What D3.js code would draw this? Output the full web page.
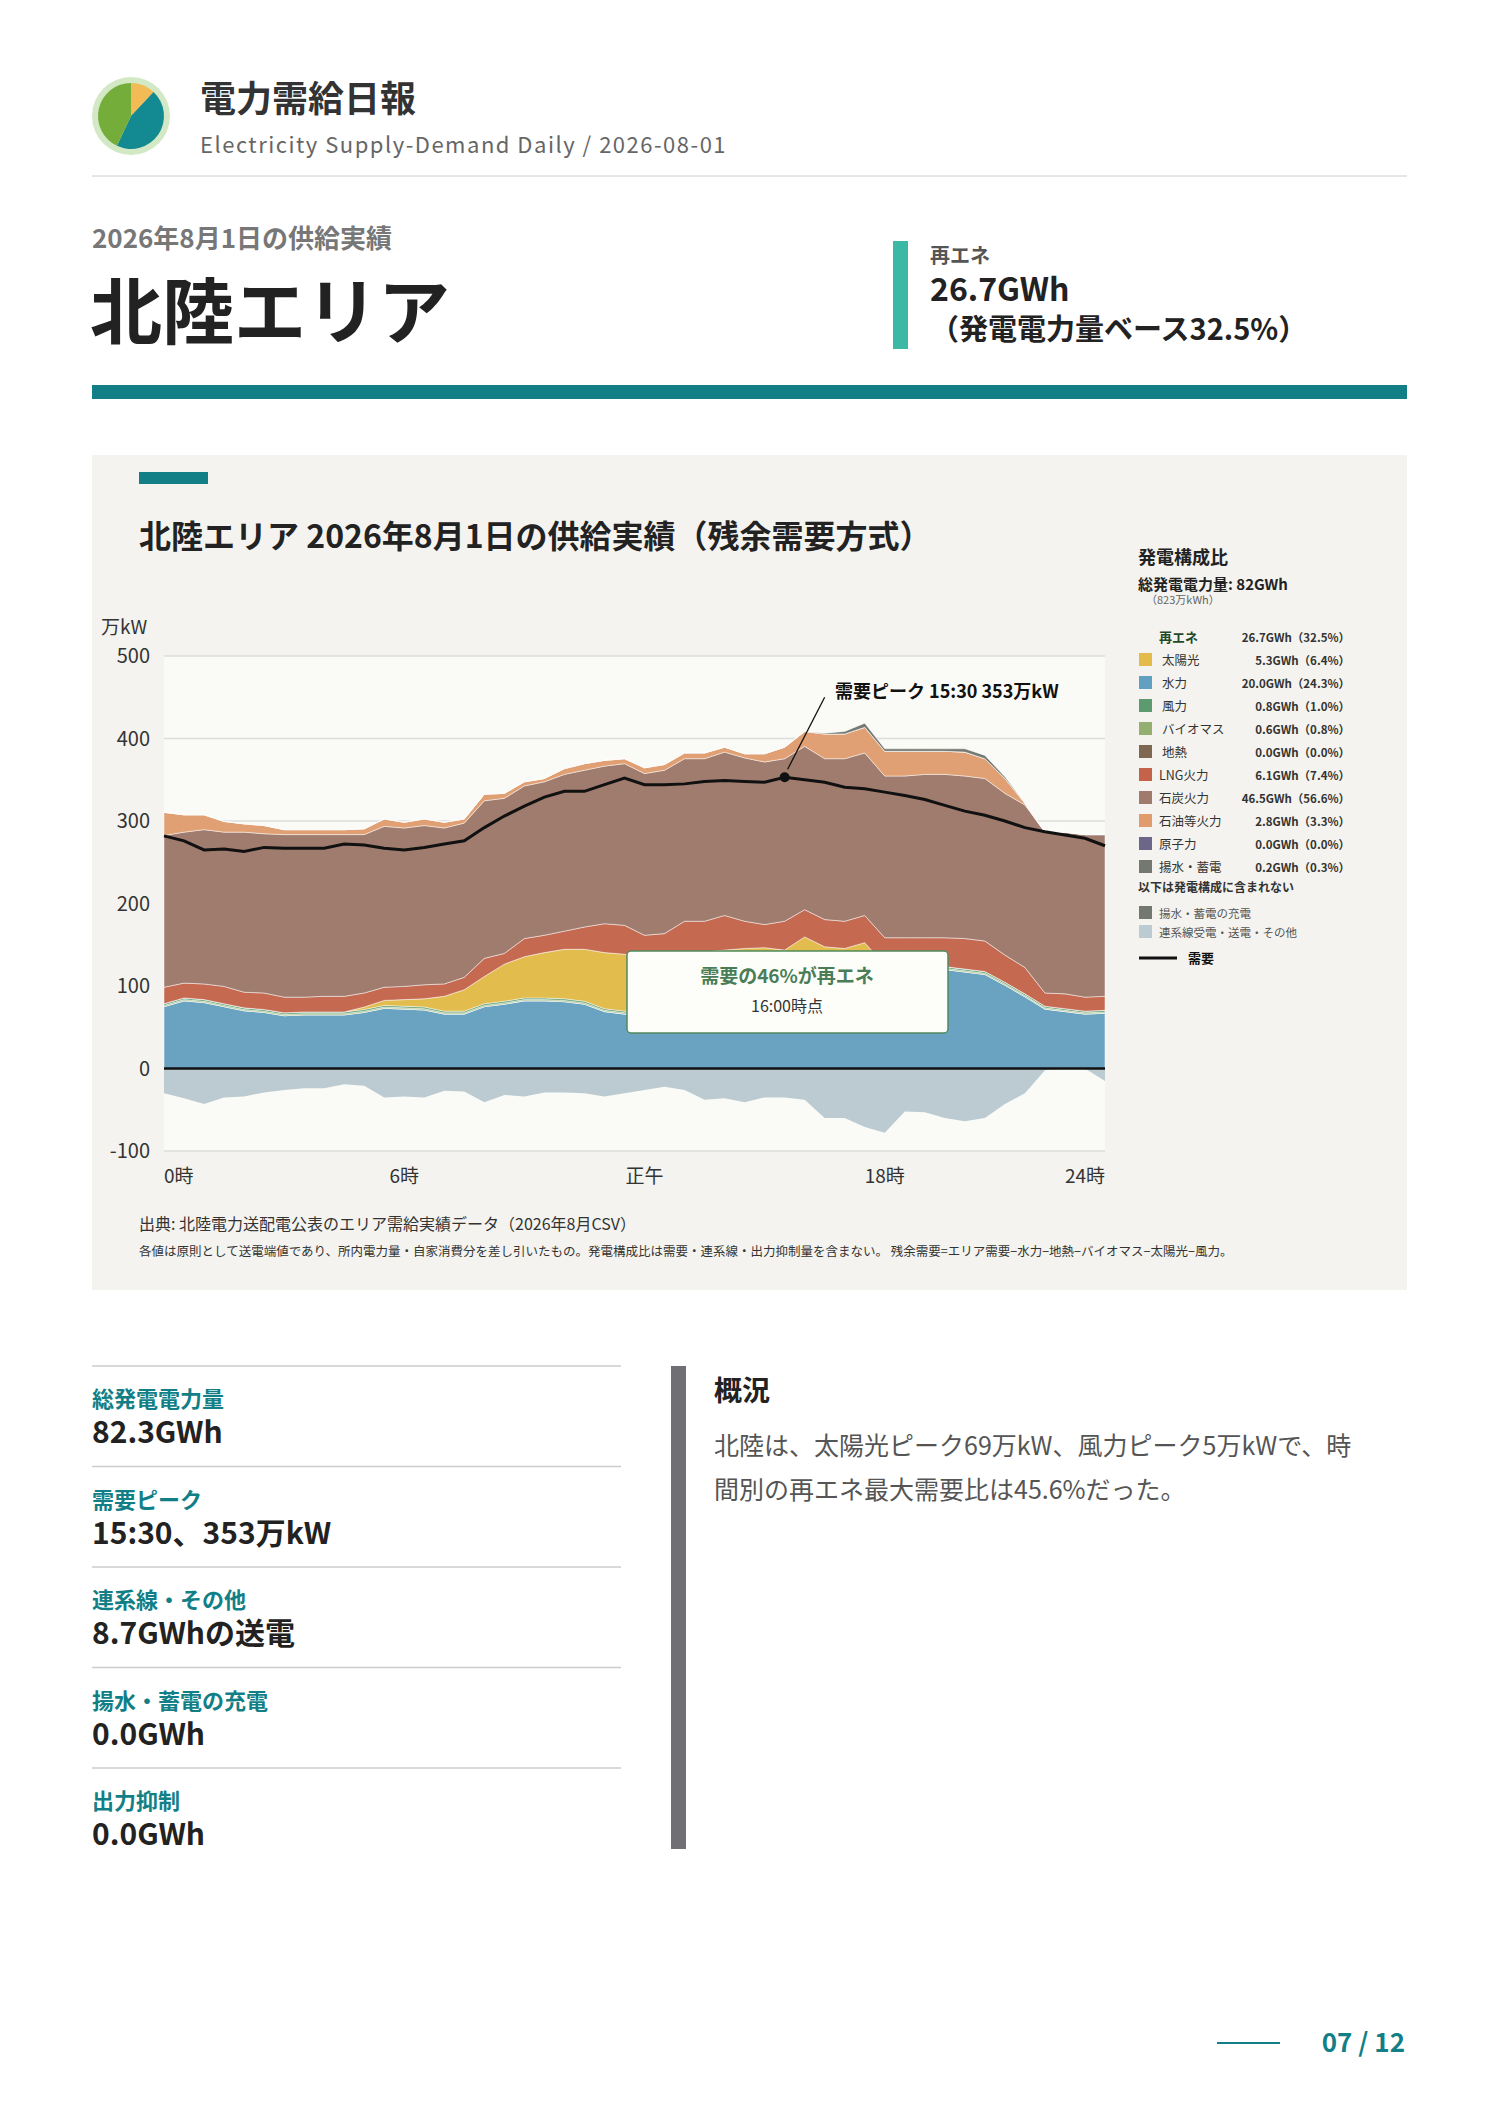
<!DOCTYPE html>
<html><head><meta charset="utf-8">
<script src="https://cdn.jsdelivr.net/npm/d3@7"></script>
<style>
body{margin:0;background:#fff;font-family:"Noto Sans CJK JP","Noto Sans",sans-serif;}
</style></head><body>
<svg id="page" width="1488" height="2105"></svg>
<script>
// half-hour values, 万kW (index 0 = 0:00 ... 47 = 23:30)
var hydro = [75,82,80,75,70,68,64,65,65,65,68,73,72,71,66,66,75,78,82,82,81,78,69,66,66,68,72,78,85,92,98,104,108,112,115,118,120,121,122,120,117,114,101,87,72,69,66,67];
var geothermal = new Array(48).fill(0);
var biomass = [1.5,1.5,1.5,1.5,1.5,1.5,1.5,1.5,1.5,1.5,1.5,1.5,1.5,1.5,1.5,1.5,1.5,1.5,1.5,1.5,1.5,1.5,1.5,1.5,1.5,1.5,1.5,1.5,1.5,1.5,1.5,1.5,1.5,1.5,1.5,1.5,1.5,1.5,1.5,1.5,1.5,1.5,1.5,1.5,1.5,1.5,1.5,1.5];
var wind = [2,2,2,2,2,2,2,2,2,2,2,2,2,2,2,2,2,2,2,2,2,2,2,2,2,2,2,2,2,2,2,2,2,2,2,2,2,2,2,2,2,2,2,2,2,2,2,2];
var solar = [0,0,0,0,0,0,0,0,0,0,3,6,8,10,18,26,33,45,50,55,60,63,68,69,66,63,60,60,55,50,45,36,48,32,27,31,2,0,0,0,0,0,0,0,0,0,0,0];
var lng = [20,18,19,21,19,20,19,18,19,19,17,16,16,17,15,15,22,13,22,21,22,27,35,35,26,29,43,37,42,33,28,35,33,33,33,33,33,34,33,35,37,37,33,32,16,18,17,17];
var coal = [184,183,187,187,194,193,197,197,196,196,192,195,192,193,189,187,191,188,185,186,190,190,191,196,196,198,197,197,198,198,197,197,198,195,197,197,196,196,198,198,197,197,196,197,195,196,197,196];
var oil = [28,21,18,13,10,10,6,6,6,6,7,9,7,8,7,5,8,6,5,4,7,8,7,6,7,7,7,7,6,5,10,14,18,30,30,31,30,30,28,28,29,24,18,2,0,0,0,0];
var nuclear = new Array(48).fill(0);
var pumped = [0,0,0,0,0,0,0,0,0,0,0,0,0,0,0,0,0,0,0,0,0,0,0,0,0,0,0,0,0,0,0,0,0,1,3,5,3,3,3,3,4,4,2,0,0,0,0,0];
var interconnect = [-30,-36,-43,-35,-34,-29,-26,-24,-24,-19,-21,-35,-34,-35,-27,-28,-41,-32,-34,-29,-29,-30,-34,-30,-26,-22,-26,-38,-36,-41,-35,-35,-38,-60,-60,-71,-78,-52,-53,-60,-64,-60,-43,-30,-2,0,0,-15];
var demand = [282,276,265,266,263,268,267,267,267,272,271,267,265,268,272,276,292,306,318,329,336,336,344,352,344,344,345,348,349,348,347,353,350,347,341,339,335,331,326,319,312,307,300,292,287,283,279,270];

var xTickPos = [0,12,24,36,47];
var xTickLabels = ["0時","6時","正午","18時","24時"];
var yTicks = [-100,0,100,200,300,400,500];

var legendRows = [
  {name:"再エネ", val:"26.7GWh（32.5%）", head:true},
  {name:"太陽光", val:"5.3GWh（6.4%）", c:"#e2bb4b", ind:true},
  {name:"水力", val:"20.0GWh（24.3%）", c:"#62a0c2", ind:true},
  {name:"風力", val:"0.8GWh（1.0%）", c:"#5c9a70", ind:true},
  {name:"バイオマス", val:"0.6GWh（0.8%）", c:"#93b070", ind:true},
  {name:"地熱", val:"0.0GWh（0.0%）", c:"#7f6851", ind:true},
  {name:"LNG火力", val:"6.1GWh（7.4%）", c:"#c4634a"},
  {name:"石炭火力", val:"46.5GWh（56.6%）", c:"#a07a6c"},
  {name:"石油等火力", val:"2.8GWh（3.3%）", c:"#e19c6e"},
  {name:"原子力", val:"0.0GWh（0.0%）", c:"#6c6688"},
  {name:"揚水・蓄電", val:"0.2GWh（0.3%）", c:"#737870"}
];

var stats = [
  ["総発電電力量","82.3GWh"],
  ["需要ピーク","15:30、353万kW"],
  ["連系線・その他","8.7GWhの送電"],
  ["揚水・蓄電の充電","0.0GWh"],
  ["出力抑制","0.0GWh"]
];

var teal = "#127f87";
var svg = d3.select("#page");
var F = '"Noto Sans CJK JP", sans-serif';

// header
var pie = d3.pie().sort(null)([12,45,43]);
var arc = d3.arc().innerRadius(0).outerRadius(33);
var logo = svg.append("g").attr("transform","translate(131,116)");
logo.append("circle").attr("r",39).attr("fill","#d3e8c4");
logo.selectAll("path").data(pie).enter().append("path").attr("d",arc)
  .attr("fill",function(d,i){return ["#f2bb55","#138a92","#75ad3a"][i];});
svg.append("text").attr("x",200).attr("y",112).text("電力需給日報")
  .attr("font-size",36).attr("font-weight",700).attr("fill","#333").attr("font-family",F);
svg.append("text").attr("x",200).attr("y",153).text("Electricity Supply-Demand Daily / 2026-08-01")
  .attr("font-size",22).attr("letter-spacing",1.5).attr("fill","#666").attr("font-family",F);
svg.append("line").attr("x1",92).attr("x2",1407).attr("y1",176).attr("y2",176).attr("stroke","#ccc");
svg.append("text").attr("x",92).attr("y",248).text("2026年8月1日の供給実績")
  .attr("font-size",26).attr("font-weight",700).attr("fill","#777").attr("font-family",F);
svg.append("text").attr("x",90).attr("y",338).text("北陸エリア")
  .attr("font-size",72).attr("font-weight",700).attr("fill","#222").attr("font-family",F);
svg.append("rect").attr("x",893).attr("y",241).attr("width",15).attr("height",108).attr("fill","#3cb8a6");
svg.append("text").attr("x",930).attr("y",263).text("再エネ").attr("font-size",20).attr("font-weight",700).attr("fill","#555").attr("font-family",F);
svg.append("text").attr("x",930).attr("y",301).text("26.7GWh").attr("font-size",32).attr("font-weight",700).attr("fill","#222").attr("font-family",F);
svg.append("text").attr("x",930).attr("y",340).text("（発電電力量ベース32.5%）").attr("font-size",29).attr("font-weight",700).attr("fill","#222").attr("font-family",F);
svg.append("rect").attr("x",92).attr("y",385).attr("width",1315).attr("height",14).attr("fill",teal);

// panel
svg.append("rect").attr("x",92).attr("y",455).attr("width",1315).attr("height",835).attr("fill","#f4f3ef");
svg.append("rect").attr("x",139).attr("y",472).attr("width",69).attr("height",12).attr("fill",teal);
svg.append("text").attr("x",139).attr("y",548).text("北陸エリア 2026年8月1日の供給実績（残余需要方式）")
  .attr("font-size",32).attr("font-weight",700).attr("fill","#222").attr("font-family",F);

// chart
var L=164,R=1105;
var x = d3.scaleLinear().domain([0,47]).range([L,R]);
var y = d3.scaleLinear().domain([-100,500]).range([1151,656]);
svg.append("rect").attr("x",L).attr("y",y(500)).attr("width",R-L).attr("height",y(-100)-y(500)).attr("fill","#fafaf6");
svg.append("g").selectAll("line").data(yTicks).enter().append("line")
  .attr("x1",L).attr("x2",R).attr("y1",y).attr("y2",y).attr("stroke","#ddd").attr("stroke-width",1.5);
svg.append("g").selectAll("text").data(yTicks).enter().append("text")
  .attr("x",150).attr("y",function(d){return y(d)+7;}).attr("text-anchor","end")
  .text(function(d){return d;}).attr("font-size",20).attr("fill","#333").attr("font-family",F);
svg.append("text").attr("x",101).attr("y",634).text("万kW").attr("font-size",19).attr("fill","#333").attr("font-family",F);
svg.append("g").selectAll("text").data(xTickPos).enter().append("text")
  .attr("x",function(d){return x(d);}).attr("y",1183)
  .attr("text-anchor",function(d,i){return i==0?"start":(i==4?"end":"middle");})
  .text(function(d,i){return xTickLabels[i];}).attr("font-size",19).attr("fill","#333").attr("font-family",F);

var layers = [
  [hydro,"#6aa3c2"],[geothermal,"#7f6851"],[biomass,"#9bb874"],[wind,"#5e9e74"],[solar,"#e2bd4e"],
  [lng,"#c56a51"],[coal,"#a07c6e"],[oil,"#e0a073"],[nuclear,"#6c6688"],[pumped,"#737870"]
];
var base = new Array(48).fill(0);
var area = d3.area().x(function(d,i){return x(i);}).y0(function(d){return y(d[0]);}).y1(function(d){return y(d[1]);});
layers.forEach(function(l){
  var pts = l[0].map(function(v,i){var p=[base[i],base[i]+v]; base[i]+=v; return p;});
  svg.append("path").datum(pts).attr("d",area).attr("fill",l[1])
    .attr("stroke","#fff").attr("stroke-opacity",0.6).attr("stroke-width",0.8);
});
svg.append("path").datum(interconnect.map(function(v){return [0,v];})).attr("d",area).attr("fill","#bccbd1");
svg.append("line").attr("x1",L).attr("x2",R).attr("y1",y(0)).attr("y2",y(0)).attr("stroke","#111").attr("stroke-width",2.5);
svg.append("path").datum(demand).attr("fill","none").attr("stroke","#111").attr("stroke-width",3)
  .attr("d",d3.line().x(function(d,i){return x(i);}).y(function(d){return y(d);}));

// peak annotation
var pk = d3.maxIndex(demand);
svg.append("circle").attr("cx",x(pk)).attr("cy",y(demand[pk])).attr("r",5).attr("fill","#111");
svg.append("line").attr("x1",x(pk)+3).attr("y1",y(demand[pk])-8).attr("x2",x(pk)+40).attr("y2",y(demand[pk])-80).attr("stroke","#111").attr("stroke-width",1.3);
svg.append("text").attr("x",835).attr("y",698).text("需要ピーク 15:30 353万kW")
  .attr("font-size",18).attr("font-weight",700).attr("fill","#111").attr("font-family",F);

// renewable share callout
svg.append("rect").attr("x",627).attr("y",951).attr("width",321).attr("height",82).attr("rx",4)
  .attr("fill","#fdfdf9").attr("stroke","#4f8a5d").attr("stroke-width",1.5);
svg.append("text").attr("x",787).attr("y",983).attr("text-anchor","middle").text("需要の46%が再エネ")
  .attr("font-size",19).attr("font-weight",700).attr("fill","#4a7d57").attr("font-family",F);
svg.append("text").attr("x",787).attr("y",1012).attr("text-anchor","middle").text("16:00時点")
  .attr("font-size",16).attr("fill","#333").attr("font-family",F);

// legend
var lg = svg.append("g").attr("font-family",F);
lg.append("text").attr("x",1138).attr("y",564).text("発電構成比").attr("font-size",18).attr("font-weight",700).attr("fill","#222");
lg.append("text").attr("x",1138).attr("y",590).text("総発電電力量: 82GWh").attr("font-size",15).attr("font-weight",700).attr("fill","#222");
lg.append("text").attr("x",1146).attr("y",604).text("（823万kWh）").attr("font-size",11).attr("fill","#666");
legendRows.forEach(function(r,i){
  var yy = 642 + i*23;
  if(r.c) lg.append("rect").attr("x",1139).attr("y",yy-12).attr("width",13).attr("height",13).attr("fill",r.c);
  lg.append("text").attr("x",r.ind?1162:1159).attr("y",yy).text(r.name)
    .attr("font-size",r.head?13:12.5).attr("font-weight",r.head?700:400).attr("fill",r.head?"#1f4a2a":"#333");
  lg.append("text").attr("x",1350).attr("y",yy).attr("text-anchor","end").text(r.val)
    .attr("font-size",11.5).attr("font-weight",700).attr("fill","#333");
});
lg.append("text").attr("x",1138).attr("y",892).text("以下は発電構成に含まれない").attr("font-size",12).attr("font-weight",700).attr("fill","#333");
lg.append("rect").attr("x",1139).attr("y",906).attr("width",13).attr("height",13).attr("fill","#737870");
lg.append("text").attr("x",1159).attr("y",918).text("揚水・蓄電の充電").attr("font-size",11.5).attr("fill","#555");
lg.append("rect").attr("x",1139).attr("y",925).attr("width",13).attr("height",13).attr("fill","#bccbd1");
lg.append("text").attr("x",1159).attr("y",937).text("連系線受電・送電・その他").attr("font-size",11.5).attr("fill","#555");
lg.append("line").attr("x1",1139).attr("x2",1177).attr("y1",958).attr("y2",958).attr("stroke","#111").attr("stroke-width",3);
lg.append("text").attr("x",1188).attr("y",963).text("需要").attr("font-size",13).attr("font-weight",700).attr("fill","#111");

svg.append("text").attr("x",139).attr("y",1230).text("出典: 北陸電力送配電公表のエリア需給実績データ（2026年8月CSV）")
  .attr("font-size",16).attr("fill","#333").attr("font-family",F);
svg.append("text").attr("x",139).attr("y",1256).text("各値は原則として送電端値であり、所内電力量・自家消費分を差し引いたもの。発電構成比は需要・連系線・出力抑制量を含まない。 残余需要=エリア需要−水力−地熱−バイオマス−太陽光−風力。")
  .attr("font-size",12.5).attr("fill","#333").attr("font-family",F);

// stats
stats.forEach(function(s,i){
  var y0 = 1366 + i*100.5;
  svg.append("line").attr("x1",92).attr("x2",621).attr("y1",y0).attr("y2",y0).attr("stroke","#ccc").attr("stroke-width",1.5);
  svg.append("text").attr("x",92).attr("y",y0+41).text(s[0]).attr("font-size",22).attr("font-weight",700).attr("fill",teal).attr("font-family",F);
  svg.append("text").attr("x",92).attr("y",y0+77).text(s[1]).attr("font-size",30).attr("font-weight",700).attr("fill","#222").attr("font-family",F);
});
svg.append("rect").attr("x",671).attr("y",1366).attr("width",15).attr("height",483).attr("fill","#707074");
svg.append("text").attr("x",714).attr("y",1401).text("概況").attr("font-size",28).attr("font-weight",700).attr("fill","#222").attr("font-family",F);
svg.append("text").attr("x",714).attr("y",1455).text("北陸は、太陽光ピーク69万kW、風力ピーク5万kWで、時").attr("font-size",25).attr("fill","#555").attr("font-family",F);
svg.append("text").attr("x",714).attr("y",1499).text("間別の再エネ最大需要比は45.6%だった。").attr("font-size",25).attr("fill","#555").attr("font-family",F);

// footer
svg.append("line").attr("x1",1217).attr("x2",1280).attr("y1",2043).attr("y2",2043).attr("stroke",teal).attr("stroke-width",2);
svg.append("text").attr("x",1405).attr("y",2052).attr("text-anchor","end").text("07 / 12")
  .attr("font-size",26).attr("font-weight",700).attr("fill",teal).attr("font-family",F);
</script>
</body></html>
